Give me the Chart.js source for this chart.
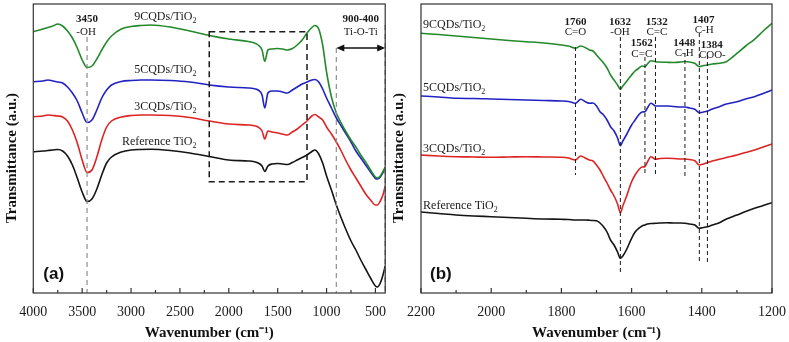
<!DOCTYPE html>
<html>
<head>
<meta charset="utf-8">
<script src="https://cdn.jsdelivr.net/npm/chart.js@4.4.1/dist/chart.umd.min.js"></script>
<style>
  body { margin: 0; background: #fff; width: 789px; height: 342px; position: relative; overflow: hidden; }
  canvas { position: absolute; top: 0; }
  #chartA { left: 0; }
  #chartB { left: 389px; }
</style>
</head>
<body>
<canvas id="chartA" width="389" height="342"></canvas>
<canvas id="chartB" width="400" height="342"></canvas>
<script>
// Panel (a): full range spectra (wavenumber cm-1, transmittance a.u. with offsets)
const waveA = [4000, 3900, 3850, 3800, 3750, 3700, 3650, 3600, 3550, 3500,
  3450, 3400, 3350, 3300, 3250, 3200, 3100, 3000, 2900, 2800,
  2600, 2400, 2200, 2000, 1800, 1750, 1700, 1660, 1632, 1600,
  1560, 1500, 1450, 1400, 1350, 1300, 1250, 1200, 1150, 1120,
  1080, 1040, 1000, 950, 900, 850, 800, 750, 700, 650,
  600, 550, 500, 480, 450, 420, 400];

const refA = [148.3, 149, 149.5, 150, 150.5, 149, 144, 135, 122, 108,
  98.5, 101, 111, 125, 137, 143, 148, 150, 150.5, 150.7,
  149.5, 147, 143.5, 140, 139, 138.5, 137, 134, 128.5, 134,
  136, 136.5, 136, 135.5, 137.5, 140, 142.5, 145, 148.5, 150,
  146, 137, 124, 110, 95, 82, 70, 59, 50, 40,
  31, 22, 14, 13, 17, 26, 34];

const cqd3A = [183.3, 184, 185, 184.5, 184, 183, 179, 170, 157, 140,
  127.5, 130, 143, 160, 173, 179, 183, 184.5, 185, 185,
  184.5, 182.5, 179, 176, 175, 174.5, 173, 169, 161, 169,
  168, 167, 166, 165, 168, 171, 175, 179, 184, 185.5,
  183, 180, 173, 166, 158, 149, 139, 130, 122, 114,
  106, 100, 95, 95, 99, 106, 114];

const cqd5A = [218.3, 219, 220, 219, 218, 217, 213, 207, 199, 187,
  177.5, 180, 190, 202, 210, 215, 218.5, 219.5, 220, 220,
  219.5, 218, 215, 213, 212, 211.5, 210, 205, 192, 207,
  209, 209, 208, 207, 210, 213, 216, 218, 220, 220.5,
  218, 211, 202, 192, 182, 174, 166, 158, 149, 142,
  135, 128, 121.5, 121, 123, 128, 132];

const cqd9A = [268.3, 271, 272.5, 274, 276, 274, 269, 262, 252, 240,
  232.5, 234, 241, 250, 258, 264, 271, 273.5, 274.5, 275,
  273, 269, 264.5, 261, 258.5, 257.5, 255, 250, 238.5, 250,
  251, 251.5, 251, 250, 251.5, 255, 260, 267, 272.5, 274.5,
  271, 255, 228, 203, 187, 177, 168, 160, 153, 145,
  138, 130, 123, 122, 124, 129, 133];

// Panel (b): zoom 2200-1200 cm-1
const waveB = [2200, 2150, 2100, 2050, 2000, 1950, 1900, 1850, 1800, 1780,
  1760, 1745, 1730, 1720, 1710, 1700, 1690, 1680, 1670, 1660,
  1650, 1640, 1632, 1625, 1615, 1600, 1590, 1580, 1570, 1562,
  1555, 1545, 1540, 1532, 1520, 1500, 1480, 1460, 1448, 1435,
  1420, 1407, 1395, 1384, 1370, 1350, 1330, 1300, 1275, 1250,
  1225, 1200];

const cqd9B = [266.7, 265.5, 264, 262.5, 261, 259.5, 258.3, 257, 255, 254,
  251.7, 254, 252, 250, 249, 245, 241, 237, 232, 225,
  220, 215, 210.7, 214, 218.3, 225, 229, 231.7, 234, 233.3,
  236, 239.3, 239, 238.3, 238, 237.7, 237.5, 238, 238.5, 238,
  236.7, 233.3, 234.5, 235, 236, 236.7, 238.3, 246.7, 254, 260.7,
  269, 276.7];

const cqd5B = [204, 203, 201.7, 201.5, 201, 200.5, 200, 199.5, 199, 198.5,
  196.7, 200.7, 198, 196.7, 197, 194, 188.3, 185, 180, 173.3,
  169, 162, 154.3, 159, 165, 175, 180, 185, 188, 188.3,
  192, 196.7, 196, 194, 194, 194, 193.5, 193, 193, 192,
  190.7, 187.3, 188, 189, 191, 193.3, 196, 198.3, 201, 203.3,
  206.5, 210];

const cqd3B = [145, 144, 143.3, 143, 142.7, 143, 143.3, 143, 142.7, 142,
  140, 144, 141.5, 140, 139, 135, 130, 123.3, 117, 110,
  104, 96, 87.3, 94, 103.3, 118.3, 125, 130, 133, 133.3,
  138, 143.3, 142.5, 140.7, 141.5, 141.7, 141.5, 141, 141, 140.5,
  139.3, 135, 136, 137.3, 139, 140.7, 142.5, 145, 147.5, 150,
  153, 156];

const refB = [88, 86.5, 85, 84, 83.3, 82.5, 81.7, 81, 80.7, 80.5,
  80, 80, 80, 79.7, 79.5, 79.3, 77, 73.3, 68, 60,
  55, 48, 41.7, 44, 50, 61.7, 68, 71.7, 74, 75,
  76, 76.5, 76.5, 76.7, 77, 77.3, 77, 77, 76.7, 76,
  75, 71.7, 72.5, 73.3, 75, 77.3, 81, 85, 88.5, 91.7,
  94.5, 97.3];

// Band assignments marked in panel (b)
const bandsB = [1760, 1632, 1562, 1532, 1448, 1407, 1384];

const SERIF = '"Liberation Serif", "Times New Roman", serif';
const SANS = '"Liberation Sans", Arial, sans-serif';
const COLORS = { ref: '#141414', cqd3: '#de2323', cqd5: '#2222c2', cqd9: '#23892b' };

Chart.defaults.font.family = SERIF;
Chart.defaults.color = '#1a1a1a';

function toPoints(xs, ys) {
  return xs.map((x, i) => ({ x: x, y: ys[i] }));
}

function makeDataset(label, xs, ys, color) {
  return {
    label: label,
    data: toPoints(xs, ys),
    borderColor: color,
    borderWidth: 1.6,
    pointRadius: 0,
    cubicInterpolationMode: 'monotone',
    fill: false
  };
}

// helpers that work in data coordinates
function px(chart, w) { return chart.scales.x.getPixelForValue(w); }
function py(chart, v) { return chart.scales.y.getPixelForValue(v); }

function vline(chart, w, v1, v2, color, dash, width) {
  const ctx = chart.ctx;
  ctx.save();
  ctx.strokeStyle = color;
  ctx.lineWidth = width;
  ctx.setLineDash(dash);
  ctx.beginPath();
  ctx.moveTo(px(chart, w), py(chart, v1));
  ctx.lineTo(px(chart, w), py(chart, v2));
  ctx.stroke();
  ctx.restore();
}

function text(chart, str, w, v, font) {
  const ctx = chart.ctx;
  ctx.save();
  ctx.font = font;
  ctx.fillStyle = '#1a1a1a';
  ctx.textAlign = 'center';
  ctx.textBaseline = 'middle';
  ctx.fillText(str, px(chart, w), py(chart, v));
  ctx.restore();
}

function subLabel(chart, main, sub, w, v, align) {
  const ctx = chart.ctx;
  ctx.save();
  ctx.font = '12px ' + SERIF;
  const w1 = ctx.measureText(main).width;
  ctx.font = '8px ' + SERIF;
  const w2 = ctx.measureText(sub).width;
  const x = px(chart, w);
  const y = py(chart, v);
  const left = align === 'right' ? x - w1 - w2 : x;
  ctx.fillStyle = '#1a1a1a';
  ctx.textAlign = 'left';
  ctx.textBaseline = 'middle';
  ctx.font = '12px ' + SERIF;
  ctx.fillText(main, left, y);
  ctx.font = '8px ' + SERIF;
  ctx.fillText(sub, left + w1, y + 4);
  ctx.restore();
}

// frame, inward ticks, y title and panel letter
const framePlugin = {
  id: 'frame',
  afterDraw(chart, args, opts) {
    const ctx = chart.ctx;
    const a = chart.chartArea;
    const sx = chart.scales.x;
    ctx.save();
    ctx.strokeStyle = '#333';
    ctx.lineWidth = 1.2;
    ctx.strokeRect(a.left, a.top, a.right - a.left, a.bottom - a.top);
    sx.ticks.forEach(t => {
      const x = sx.getPixelForValue(t.value);
      const len = t.value % opts.major === 0 ? 5 : 3;
      ctx.beginPath();
      ctx.moveTo(x, a.bottom);
      ctx.lineTo(x, a.bottom - len);
      ctx.stroke();
    });
    ctx.fillStyle = '#111';
    ctx.font = 'bold 17px ' + SANS;
    ctx.textAlign = 'left';
    ctx.textBaseline = 'middle';
    ctx.fillText(opts.letter, a.left + opts.letterDx, 274);
    ctx.translate(opts.titleX, 158);
    ctx.rotate(-Math.PI / 2);
    ctx.font = 'bold 15px ' + SERIF;
    ctx.textAlign = 'center';
    ctx.fillText('Transmittance (a.u.)', 0, 0);
    ctx.restore();
  }
};

const annotateA = {
  id: 'annotateA',
  afterDatasetsDraw(chart) {
    const ctx = chart.ctx;
    vline(chart, 3450, 263, 7, '#8f8f8f', [5, 4], 1.2);
    vline(chart, 900, 252, 7, '#8f8f8f', [5, 4], 1.2);
    vline(chart, 400, 275, 7, '#8f8f8f', [5, 4], 1.4);

    // dashed box for the zoomed region
    ctx.save();
    ctx.strokeStyle = '#1a1a1a';
    ctx.lineWidth = 1.5;
    ctx.setLineDash([6, 4]);
    const x1 = px(chart, 2200), x2 = px(chart, 1200);
    const y1 = py(chart, 268.3), y2 = py(chart, 118.3);
    ctx.strokeRect(x1, y1, x2 - x1, y2 - y1);
    ctx.restore();

    // double arrow 900-400
    const ya = py(chart, 252);
    const xa = px(chart, 900), xb = px(chart, 400);
    ctx.save();
    ctx.strokeStyle = '#111';
    ctx.fillStyle = '#111';
    ctx.lineWidth = 1.3;
    ctx.beginPath();
    ctx.moveTo(xa + 4, ya);
    ctx.lineTo(xb - 4, ya);
    ctx.stroke();
    [[xa, 1], [xb, -1]].forEach(([x, d]) => {
      ctx.beginPath();
      ctx.moveTo(x, ya);
      ctx.lineTo(x + d * 8, ya - 3.5);
      ctx.lineTo(x + d * 8, ya + 3.5);
      ctx.closePath();
      ctx.fill();
    });
    ctx.restore();

    text(chart, '3450', 3450, 280.5, 'bold 11px ' + SERIF);
    text(chart, '-OH', 3460, 267.5, '11px ' + SERIF);
    text(chart, '900-400', 650, 281, 'bold 11px ' + SERIF);
    text(chart, 'Ti-O-Ti', 650, 268, '11px ' + SERIF);

    subLabel(chart, '9CQDs/TiO', '2', 2331, 283, 'right');
    subLabel(chart, '5CQDs/TiO', '2', 2331, 230, 'right');
    subLabel(chart, '3CQDs/TiO', '2', 2331, 193, 'right');
    subLabel(chart, 'Reference TiO', '2', 2331, 158, 'right');
  }
};

const annotateB = {
  id: 'annotateB',
  afterDatasetsDraw(chart) {
    const spans = { 1760: [253, 125], 1632: [263, 25], 1562: [243, 125], 1532: [263, 125],
      1448: [247, 123], 1407: [267, 37], 1384: [245, 37] };
    bandsB.forEach(b => vline(chart, b, spans[b][0], spans[b][1], '#1a1a1a', [4, 3], 1));

    const bold = 'bold 11px ' + SERIF;
    const reg = '11px ' + SERIF;
    text(chart, '1760', 1760, 278.3, bold);
    text(chart, 'C=O', 1760, 267.7, reg);
    text(chart, '1632', 1633, 278.3, bold);
    text(chart, '-OH', 1633, 267.7, reg);
    text(chart, '1532', 1528, 278.3, bold);
    text(chart, 'C=C', 1528, 267.7, reg);
    text(chart, '1562', 1571, 256.7, bold);
    text(chart, 'C=C', 1571, 246.3, reg);
    text(chart, '1448', 1450, 257, bold);
    text(chart, 'C-H', 1450, 246.5, reg);
    text(chart, '1407', 1395, 280, bold);
    text(chart, 'C-H', 1393, 269.5, reg);
    text(chart, '1384', 1372, 255, bold);
    text(chart, 'COO-', 1370, 244.5, reg);

    subLabel(chart, '9CQDs/TiO', '2', 2194, 275.5, 'left');
    subLabel(chart, '5CQDs/TiO', '2', 2194, 212, 'left');
    subLabel(chart, '3CQDs/TiO', '2', 2194, 151.5, 'left');
    subLabel(chart, 'Reference TiO', '2', 2194, 94, 'left');
  }
};

function makeChart(canvasId, datasets, xMin, xMax, step, major, padding, extra, frameOpts) {
  const ctx = document.getElementById(canvasId).getContext('2d');
  return new Chart(ctx, {
    type: 'line',
    data: { datasets: datasets },
    options: {
      responsive: false,
      animation: false,
      devicePixelRatio: 1,
      layout: { padding: padding },
      plugins: {
        legend: { display: false },
        tooltip: { enabled: false },
        frame: frameOpts
      },
      scales: {
        x: {
          type: 'linear',
          reverse: true,
          min: xMin,
          max: xMax,
          grid: { display: false },
          border: { display: false },
          ticks: {
            stepSize: step,
            autoSkip: false,
            maxRotation: 0,
            includeBounds: false,
            padding: 3,
            font: { size: 14 },
            color: '#1a1a1a',
            callback: v => (v % major === 0 ? String(v) : '')
          },
          title: {
            display: true,
            text: 'Wavenumber (cm\u207B\u00B9)',
            font: { size: 15, weight: 'bold' },
            color: '#111',
            padding: { top: 0, bottom: 0 }
          },
          afterFit: scale => { scale.height = 49; }
        },
        y: { display: false, min: 7, max: 296 }
      }
    },
    plugins: [framePlugin, extra]
  });
}

makeChart('chartA', [
  makeDataset('9CQDs/TiO2', waveA, cqd9A, COLORS.cqd9),
  makeDataset('5CQDs/TiO2', waveA, cqd5A, COLORS.cqd5),
  makeDataset('3CQDs/TiO2', waveA, cqd3A, COLORS.cqd3),
  makeDataset('Reference TiO2', waveA, refA, COLORS.ref)
], 400, 4000, 250, 500, { left: 33.3, right: 2.5, top: 4, bottom: 0 }, annotateA,
  { major: 500, titleX: 12, letter: '(a)', letterDx: 10 });

makeChart('chartB', [
  makeDataset('9CQDs/TiO2', waveB, cqd9B, COLORS.cqd9),
  makeDataset('5CQDs/TiO2', waveB, cqd5B, COLORS.cqd5),
  makeDataset('3CQDs/TiO2', waveB, cqd3B, COLORS.cqd3),
  makeDataset('Reference TiO2', waveB, refB, COLORS.ref)
], 1200, 2200, 100, 200, { left: 32, right: 17, top: 4, bottom: 0 }, annotateB,
  { major: 200, titleX: 10, letter: '(b)', letterDx: 9 });
</script>
</body>
</html>
